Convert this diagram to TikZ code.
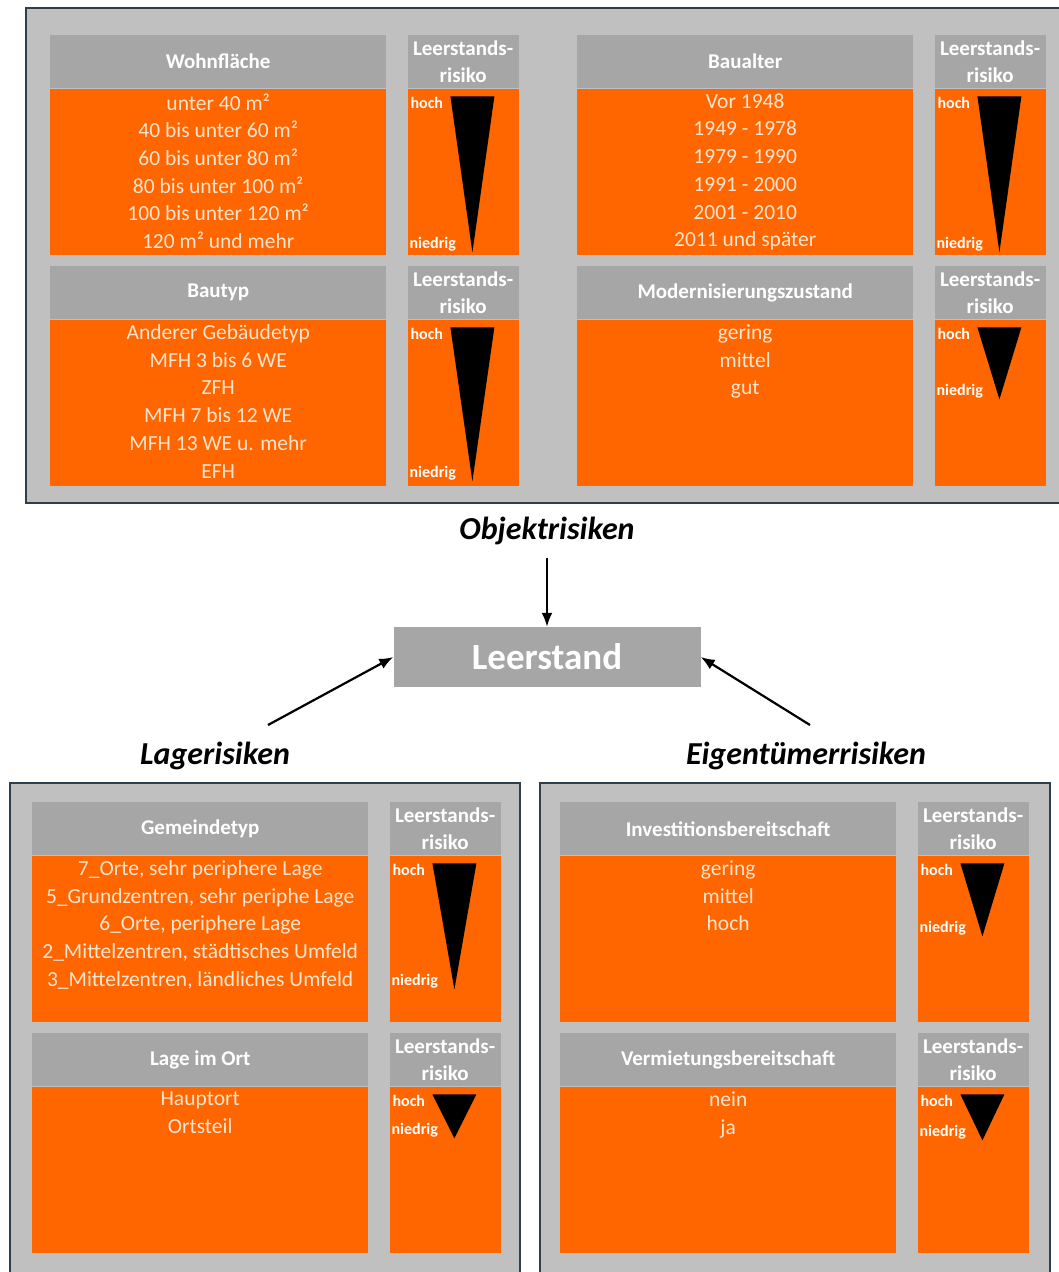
\documentclass[tikz,border=0pt]{standalone}
\usepackage{fontspec}
\setmainfont{Carlito}
\usetikzlibrary{arrows.meta,positioning}
\definecolor{lsorange}{RGB}{255,102,0}
\definecolor{lsgray}{RGB}{166,166,166}
\definecolor{lsframe}{RGB}{192,192,192}
\definecolor{lsborder}{RGB}{47,62,75}
\definecolor{lspeach}{RGB}{253,228,207}

\tikzset{
  hdr/.style={fill=lsgray, text=white, font=\fontsize{21}{27}\selectfont\bfseries,
    minimum width=336pt, minimum height=53pt, inner sep=0pt, align=center},
  riskcol/.style={minimum width=111pt},
  bodybox/.style={fill=lsorange, minimum width=336pt, minimum height=166pt, inner sep=0pt},
  items/.style={text=lspeach, font=\fontsize{21.5}{27.7}\selectfont, align=center, inner sep=0pt},
  lvl/.style={text=white, font=\fontsize{16}{18}\selectfont\bfseries, inner sep=0pt},
  group/.style={font=\fontsize{32}{36}\selectfont\bfseries\itshape},
  arr/.style={-{Latex[length=14pt,width=11pt]}, line width=2.2pt},
  frame/.style={fill=lsframe, draw=lsborder, line width=2.5pt},
}

% #1 name, #2 top left, #3 title, #4 items, #5 triangle height
\newcommand{\riskpanel}[5]{%
  \node[hdr, anchor=north west] (#1-head) at (#2) {#3};
  \node[bodybox, below=0pt of #1-head] (#1-body) {};
  \node[items, below=5pt of #1-body.north] (#1-list) {#4};
  \node[hdr, riskcol, right=21pt of #1-head] (#1-rhead) {Leerstands-\\risiko};
  \node[bodybox, riskcol, right=21pt of #1-body] (#1-rbody) {};
  \fill[black] ([xshift=43pt,yshift=-8pt]#1-rbody.north west) coordinate (#1-tri)
    -- ++(44pt,0pt) -- ++(-22pt,-#5pt) -- cycle;
  \node[lvl, anchor=west] (#1-hi) at ([xshift=3pt,yshift=-15pt]#1-rbody.north west) {hoch};
  \node[lvl, anchor=west] (#1-lo) at ([xshift=2pt,yshift=-#5pt]#1-rbody.north west) {niedrig};
}

\begin{document}
\begin{tikzpicture}[x=1pt, y=-1pt]
  \useasboundingbox (0,0) rectangle (1058,1272);
  \fill[white] (0,0) rectangle (1058,1272);
  \draw[frame] (26,8) rectangle (1064,503);
  \draw[frame] (10,783) rectangle (520,1280);
  \draw[frame] (540,783) rectangle (1050,1280);

  % Objektrisiken
  \riskpanel{wohn}{50,35}{Wohnfläche}
    {unter 40 m²\\40 bis unter 60 m²\\60 bis unter 80 m²\\80 bis unter 100 m²\\100 bis unter 120 m²\\120 m² und mehr}{156}
  \riskpanel{bau}{577,35}{Baualter}
    {Vor 1948\\1949 - 1978\\1979 - 1990\\1991 - 2000\\2001 - 2010\\2011 und später}{156}
  \riskpanel{typ}{50,266}{Bautyp}
    {Anderer Gebäudetyp\\MFH 3 bis 6 WE\\ZFH\\MFH 7 bis 12 WE\\MFH 13 WE u. mehr\\EFH}{154}
  \riskpanel{mod}{577,266}{Modernisierungszustand}
    {gering\\mittel\\gut}{72}

  % Lagerisiken
  \riskpanel{gem}{32,802}{Gemeindetyp}
    {7\_Orte, sehr periphere Lage\\5\_Grundzentren, sehr periphe Lage\\6\_Orte, periphere Lage\\2\_Mittelzentren, städtisches Umfeld\\3\_Mittelzentren, ländliches Umfeld}{126}
  \riskpanel{ort}{32,1033}{Lage im Ort}
    {Hauptort\\Ortsteil}{44}

  % Eigentümerrisiken
  \riskpanel{inv}{560,802}{Investitionsbereitschaft}
    {gering\\mittel\\hoch}{73}
  \riskpanel{ver}{560,1033}{Vermietungsbereitschaft}
    {nein\\ja}{46}

  \node[group] (obj) at (547,531) {Objektrisiken};
  \node[fill=lsgray, text=white, font=\fontsize{37}{40}\selectfont\bfseries,
        minimum width=307pt, minimum height=60pt, inner sep=0pt] (leer) at (547,657) {Leerstand};
  \node[group] (lag) at (215,756) {Lagerisiken};
  \node[group] (eig) at (806,756) {Eigentümerrisiken};
  \coordinate (lagtail) at (268,725);
  \coordinate (eigtail) at (810,725);
  \draw[arr, shorten <=10pt] (obj) -- (leer);
  \draw[arr] (lagtail) -- (leer.west);
  \draw[arr] (eigtail) -- (leer.east);
\end{tikzpicture}
\end{document}
